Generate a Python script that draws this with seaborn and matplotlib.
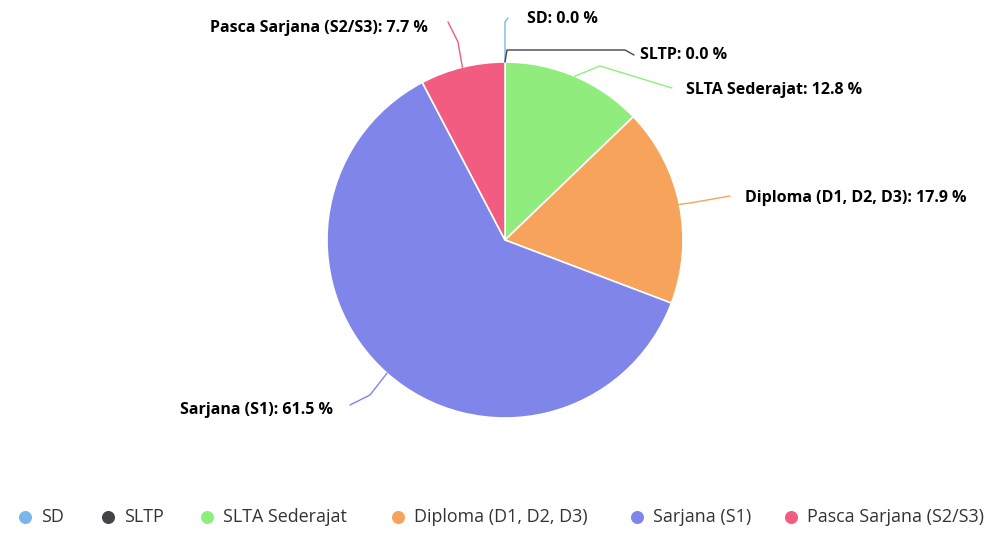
import numpy as np
import matplotlib
matplotlib.use("Agg")
import matplotlib.pyplot as plt
import seaborn as sns

# data (counts of respondents by education level)
categories = ["SD", "SLTP", "SLTA Sederajat", "Diploma (D1, D2, D3)", "Sarjana (S1)", "Pasca Sarjana (S2/S3)"]
counts = [0, 0, 5, 7, 24, 3]
colors = ["#7cb5ec", "#434348", "#90ed7d", "#f7a35c", "#8085e9", "#f15c80"]

sns.set_theme(style="white")
plt.rcParams["font.family"] = ["Open Sans", "DejaVu Sans"]

fig = plt.figure(figsize=(9.99, 5.38), dpi=100)
ax = fig.add_axes([0, 0, 1, 1])

# pixel-like coordinates, y axis pointing down
cx, cy, r = 505, 240, 178
wedges, _ = ax.pie(counts, colors=colors, center=(cx, cy), radius=r,
                   startangle=-90, counterclock=True,
                   wedgeprops=dict(edgecolor="white", linewidth=1.2))
ax.set_xlim(0, 999)
ax.set_ylim(538, 0)
ax.set_aspect("auto")
ax.axis("off")

total = sum(counts)
pct = [100 * c / total for c in counts]

# label layout: (text x, text y, ha, connector end points)
layout = {
    "SD": (527, 19, "left", [(505, 22), (508, 18)]),
    "SLTP": (640, 55, "left", [(507, 50), (625, 50), (634, 55)]),
    "SLTA Sederajat": (686, 90, "left", [(600, 66), (672, 88)]),
    "Diploma (D1, D2, D3)": (745, 198, "left", [(690, 203), (730, 196)]),
    "Sarjana (S1)": (333, 410, "right", [(370, 395), (350, 405)]),
    "Pasca Sarjana (S2/S3)": (428, 28, "right", [(458, 42), (448, 22)]),
}

for w, cat, p, col in zip(wedges, categories, pct, colors):
    mid = np.deg2rad((w.theta1 + w.theta2) / 2)
    ex, ey = cx + r * np.cos(mid), cy + r * np.sin(mid)
    tx, ty, ha, pts = layout[cat]
    xs = [ex] + [q[0] for q in pts]
    ys = [ey] + [q[1] for q in pts]
    ax.plot(xs, ys, color=col, lw=1, solid_capstyle="round", zorder=1)
    ax.text(tx, ty, f"{cat}: {p:.1f} %", ha=ha, va="center",
            fontsize=11.5, fontweight="bold", color="black")

# legend row at the bottom
legend_x = [25, 108, 207, 398, 637, 791]
legend_y = 517
for lx, cat, col in zip(legend_x, categories, colors):
    ax.scatter([lx], [legend_y], s=70, color=col, zorder=3, clip_on=False)
    ax.text(lx + 16, legend_y, cat, ha="left", va="center",
            fontsize=12.9, color="#333333")

fig.savefig("out.png", dpi=100)
